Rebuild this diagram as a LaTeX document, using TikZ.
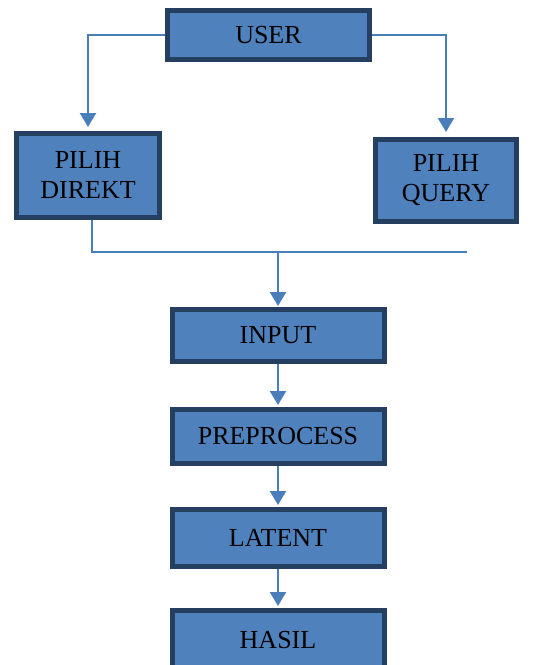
\documentclass[tikz,border=0pt]{standalone}
\usepackage{fontspec}
\setmainfont{Liberation Serif}
\usetikzlibrary{shapes.geometric, arrows.meta, positioning}
\definecolor{bfill}{HTML}{4F81BD}
\definecolor{bline}{HTML}{243F60}
\definecolor{wblue}{HTML}{4A7EBB}
\tikzstyle{block} = [rectangle, draw = bline, line width = 5pt, fill = bfill, text = black, align = center, font = \fontsize{26}{30}\selectfont]
\tikzstyle{stage} = [block, minimum width = 212pt, minimum height = 52pt]
\tikzstyle{wire} = [wblue, line width = 2.2pt]
\tikzstyle{flow} = [wire, -{Triangle[width=16pt,length=14pt]}, shorten > = 2pt]

\begin{document}
\begin{tikzpicture}[x = 1pt, y = 1pt]
  \useasboundingbox (0,0) rectangle (542,-665);
  \node (user) [block, minimum width = 202pt, minimum height = 49pt] at (268.5,-35) {USER};
  \node (direkt) [block, minimum width = 143pt, minimum height = 84pt] at (88,-175.5) {PILIH\\DIREKT};
  \node (query) [block, minimum width = 141pt, minimum height = 82pt] at (446,-180.5) {PILIH\\QUERY};
  \node (input) [stage] at (278,-335.5) {INPUT};
  \node (prep) [stage, minimum height = 54pt, below = 43pt of input] {PREPROCESS};
  \node (latent) [stage, minimum height = 57pt, below = 41pt of prep] {LATENT};
  \node (hasil) [stage, minimum height = 60pt, below = 39pt of latent] {HASIL};
  \draw [flow, shorten > = 4pt] (user.west) -| (direkt.north);
  \draw [flow, shorten > = 5pt] (user.east) -| (query.north);
  \coordinate (busl) at (92,-252);
  \coordinate (busr) at (467,-252);
  \draw [wire] ([xshift = 4pt]direkt.south) -- (busl) -- (busr);
  \draw [flow, shorten > = 1pt] (busl -| input.north) -- (input.north);
  \draw [flow] (input) -- (prep);
  \draw [flow] (prep) -- (latent);
  \draw [flow] (latent) -- (hasil);
\end{tikzpicture}
\end{document}
